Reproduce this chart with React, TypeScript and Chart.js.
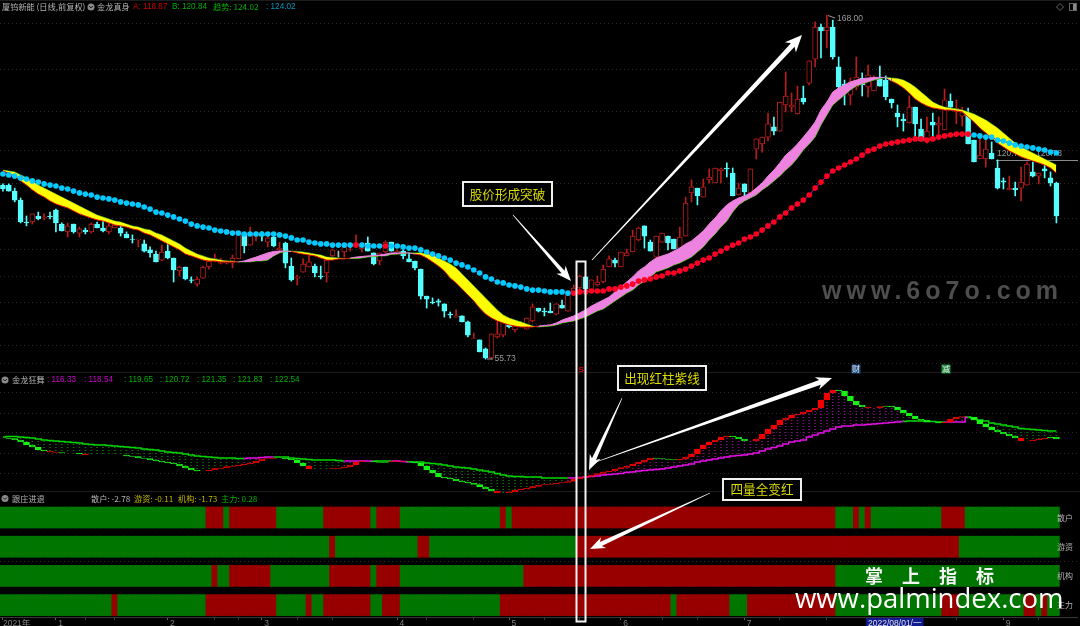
import React, { useEffect, useRef } from "react";
import { Chart, registerables } from "chart.js";

Chart.register(...registerables);

const opens = [111.3,111.3,109.3,106.3,99,99,101,100.3,101,103,98.3,95.7,98.3,95.3,96.3,95.7,98.3,97,95.7,97,97,95,93.3,93,91.7,89.7,88.3,86.3,89.3,87,82.7,84,79.7,78.3,80.3,84,86.3,85.3,85.3,85.3,86.7,95.3,91.3,94.3,95,92.3,94,89.7,92,84.3,80.3,82.3,84,84.3,81,82,87.7,88.7,89,90.7,91,90,92,88.7,86,89,92.3,88.3,89.3,86.7,86,83.3,74.3,72.3,72.7,71.7,68.3,67.3,67.7,65.7,60.2,59.7,56.7,53.7,60.7,61.3,64.7,63,65.3,63.3,66,70.3,69.3,69.3,68.3,71.3,69.3,75.7,77,80.7,76,78,79,84,86.3,84,87.7,89,93,97.7,92.3,87.3,92.3,94.3,93.3,90.3,94.3,108.7,110.3,107.3,113,112,116,117,115.3,108,111.7,108.7,123.3,125,127.3,130.7,129.3,138,137.3,135,140.3,145.3,153.3,164,162.7,164,150.7,145,141.3,144,147,144,142.7,146.7,146.3,140,135.3,133.3,132,137.3,130,126.3,132.3,131.3,129.7,139.3,135.7,134.3,135.3,126.3,120,120,122,117,112.7,109.7,110.3,110.3,111.3,115.7,114.3,116.7,113.7,112];
const closes = [110,109.3,106.3,99,98.8,101.7,100,100.7,100.8,98.7,96,97.7,95.7,96.7,95.7,98.3,97,96,97.7,98,95.3,93.7,93.2,93.3,89.3,88.7,85.7,89,87,83,84,80,79.5,80,84,86,87,86,85.7,87,95.3,91,95.3,95.3,94.3,93.7,91,90.3,85.3,79.7,80.7,85,85.7,82,80.7,86.3,89.7,88.7,90.7,91.3,92,91,89.3,85,88.7,92.3,89.3,89.3,87.7,85.7,83.7,74.3,73.3,72,72.3,69.3,68,67.7,65.7,61.3,60.3,55.7,53.7,61.7,61.7,65.7,64,64.3,64.7,67,70.7,69.3,69,68.7,71.7,70.3,74.7,77,81,76.7,79.7,79,83.3,86.7,85.3,89,88.7,94.3,97,94.3,89.3,94.3,95.3,92,90,94,105.3,110.7,107.7,110.7,114,117,116.7,116.7,107.7,110.3,109,116.7,126.7,127.3,131.7,129.3,139,141,138,140,139,152.7,164,162.7,164,154,144,143.7,145.7,147.3,144.7,148,146.7,144.3,140.7,138.7,134,132.7,137.3,131.7,126,129.3,131.3,132,139.7,137.3,137,135.7,125,119,121.3,123.3,120,110.3,112.3,110.3,109.7,112.3,118.3,114.3,115.3,116,112,101];
const highs = [111.7,111.7,110.3,107,101,101.7,102.3,101.7,102.3,103.3,98.7,98.7,98.3,97.3,97,98.7,99,99.7,98.7,99,98.3,95.7,94.7,93.3,93,90.7,89.3,91.3,92.3,87,84.3,84,80.7,80.7,84.3,87,88.3,87,86.3,88,95.7,95.3,97.3,95.7,95.7,94.3,95,92.3,92.3,87,81.3,86.7,87.7,85,84.3,87.3,90,89.3,91.3,92,94.7,91.3,94,88.7,88.7,92.7,92.3,89.7,89.7,88.7,86,83.3,74.3,73.7,73.3,71.7,69,69.7,67.7,66,62,59.7,57,61.7,65.7,66.3,65.7,64.7,65.7,67,71.7,70.3,70.3,72,71.7,73,75.3,78,81.3,80.7,79.7,81,84.7,87.7,87,89,90,96.3,97.3,97.7,93,94.3,95.3,94.3,93.3,97.3,107.3,113,110.3,113.3,116.7,117,117,118.7,117,112,111.7,116.7,126.7,127.3,135.3,134,139,149,142,144.3,144.3,152.7,165.7,165,168,166.3,154,146.3,147,154,148.7,151.3,147.7,151,147.7,140,138,135,141,137.3,133.3,134,135.3,134,143.3,141.7,139.7,137.3,137,126.3,127,127,125.7,119.7,113.7,114.3,112.3,117.3,119,119,115.3,118,115.7,112.3];
const lows = [109.3,109.3,105.7,98.7,97.7,98.3,99.7,99.7,100,95.7,96,94,95.3,94,95,95.3,97,95.7,95,97,94.3,93.7,92,90.7,89,87.3,85.7,86,86.7,79,81,79.7,78.7,77.7,80.3,83.3,85.7,85,85,83.7,86.7,88.7,91.3,92.7,92.7,90.7,90.7,89.3,83.7,79.3,78,82.3,84,80.7,80,79,87.3,87.3,87.3,89.3,91,89,89.3,84.7,84.7,88.7,89.3,88.3,86.7,85.7,83,73.3,70.3,71.7,71,67.3,67,67.3,65.7,60.7,60.2,55.7,53.3,53.3,60.3,60.7,63.7,62.3,64.7,63.3,65.7,69,67.7,68.7,68,70.3,69.3,75,76.3,76.7,76,77.7,78.7,84,84,84,87.7,89,92.7,90.3,89.3,87.3,92.3,89.7,90,90.3,94.3,105.7,104.7,107.3,112,112,112,114,107.7,108,107.7,108.7,120,122.3,126,128,129.3,135.7,135.7,135,138.3,144.7,150.7,153.7,157,153.3,140.7,138,138,143,141,140.7,142.7,144.3,139.7,137,130.7,129.3,132,127.3,126,125.3,127.3,127.3,129.7,136.3,131.7,131,125,119,120,117.3,120,110,110,109.7,107.7,106,111.3,114,111.7,113.7,111,98.7];

const ribbonFast = [116,115.3,114.3,112.7,111.3,109.7,108.3,107.3,106,105,104.3,103.7,102.7,101.7,101,100.3,99.7,99.3,98.7,98,97.7,97.3,96.7,96.3,95.3,94.7,93.7,92.7,91.7,90.7,89.7,88.3,87.7,87,86.3,86,86,85.7,85.7,85.7,85.7,86,86.7,87.3,88,88.7,89.2,89.3,89.3,89.2,88.7,88.3,88,87.7,87,86.3,86.3,86.7,86.7,87,87.3,87.5,87.7,87.8,88,88.3,88.7,88.7,88.7,88.7,88.3,88,87,85.7,84.3,82.7,80.3,78.7,76.7,74.7,72.7,70.3,68.3,67,66,65.3,64.7,64.3,64,64,64,64.3,64.5,64.7,65.3,66.3,67,67.7,68.7,69.7,71,72,73,74,75.7,77.3,79,80.7,82.7,84,85.7,87,87.7,88.3,89.3,90.3,91.7,92.7,94.3,96,98.3,100.3,102.7,104.7,106,107,107.7,108.7,110.3,112,114.3,116.3,118.7,121.3,123,125,127.3,129.7,132.3,136.3,139,142.3,143.7,144.7,145.7,146.3,146.7,147,147.2,147.2,147.2,146,145,143.7,142,140,138.7,137.7,137,136.7,136.3,136.3,136,135.7,134,132.3,130.3,128.7,127,125.3,124,122.7,121.7,120.7,120,119.3,118.7,118,117,115.3];
const ribbonSlow = [116.3,116,115.7,114.7,113.7,112.7,111.3,110.3,109.3,108.3,107.3,106.3,105.3,104.3,103.3,102.3,101.3,100.7,100,99.3,99,98.3,97.7,97.3,96.7,96.3,95.3,94.7,93.7,92.7,91.7,90.3,89.3,88.3,87.7,87,86.7,86.3,86,86,85.7,85.7,85.7,86,86,86.3,87.7,88.7,89.2,89.3,89.2,89,88.7,88.3,88,87.3,87.2,87,86.8,86.8,86.8,87,87.3,87.5,87.7,87.7,88.2,88.3,88.5,88.7,88.7,88.7,88.3,88,87,86,85,83.7,81.7,79.7,77.7,75.7,73.7,71.7,69.7,68,67,66.3,65.7,65,64.3,64,64.2,64.3,64.7,65.3,65.7,66,66.7,67.3,68.3,69.3,70,71.3,72.7,74,75.3,76.3,78,79.3,80.7,82.3,83,83.7,84.7,85.3,86.3,87.3,89,90.7,93,95,97.3,99.3,102.3,104.7,106,107,108,109.7,111,112.7,114.3,116.3,118,120.3,123,125,127.3,131.3,134.7,138,139.7,141.3,143,144.3,145,145.7,146.3,146.8,147.2,147,146.8,146.3,145.3,144,142.3,140.7,139,138,137.3,137,136.7,136.3,135.7,135,134,133,131.7,130.3,128.7,127,125.3,124,123,122,121,120,119,118];
const trendDots = [115,114.7,114.3,113.7,113.3,112.7,112.3,111.7,111.3,111,110.3,110,109.3,108.7,108.3,108,107.3,107,106.7,106.3,105.7,105.3,105,104.7,104,103.3,102.3,102,101.3,100.7,100,99.3,98.3,97.7,97.3,97,96.3,96,95.7,95.3,95.3,95,95,95,95,95,95,94.7,94.3,93.7,93,93,92.3,92,91.7,91.7,91.3,91.3,91.3,91.3,91.3,91.3,91,91,91,91,91,91,90.7,90.3,90.3,89.7,89,88.3,87.7,87,86.3,85.3,84.7,84,83,82,80.7,80,79,78.7,78,77.7,77.3,76.7,76.3,76.3,76,75.7,75.7,75.7,75.3,75.3,75.7,75.7,76,76,76,76.7,76.7,77.3,77.7,78.3,79.3,79.7,80,80.7,81,82,82,82.7,83.3,84.3,85.3,86.3,87,88.3,89.3,90.3,91.3,92,93.3,94,95,96.3,97.7,99,100.7,102,103.7,105,106.3,108,110.3,112.3,114.3,116,117,118,119,120,121.3,122.7,123.3,124.3,125,125.3,125.7,126,126.3,126.7,126.7,126.3,126.7,127.3,127.7,128,128.3,128.3,128.3,128,127.7,127.3,127.3,126.3,126,125.3,124.7,124.3,124,123.7,123.3,123,122.3,122];
const redDotSpans = [[60,60],[65,65],[97,164]];

const oscFast = [119.5,119,117.5,115.5,112.5,110.5,107.5,106.5,105.5,105,104.5,104.5,104.5,103.5,102.5,102.5,102.5,102.5,102.5,102.5,102.5,101.5,101,99.5,99,97.5,96.5,95.5,94.5,93.5,91.5,89.5,87.5,86.5,86.5,87.5,89,89.5,91,91.5,92.5,93.5,94.5,96.5,98.5,99,99.5,99.5,98.5,97.5,94.5,91.5,88.5,88.5,88.5,88.5,89,89.5,90.5,92.5,95.5,96.5,96.5,95.5,95,95.5,96,96.5,96,95.5,94.5,91.5,87.5,84.5,80.5,79.5,78.5,76.5,75.5,74.5,73,70.5,68.5,66.5,64.5,64.5,65.5,67.5,68.5,69.5,71,72.5,73,73.5,74.5,75,76,78.5,80,81,82.5,84,85.5,86.5,88.5,90,91.5,93.5,95.5,97.5,99.5,99,98.5,98,97.5,98.5,100.5,103.5,108.5,112.5,115.5,117.5,120.5,121.5,120.5,118.5,116.5,116.5,118.5,123.5,128.5,132.5,137.5,139.5,142.5,143.5,145.5,147.5,149.5,157.5,164.5,167.5,166.5,161.5,156.5,152.5,150.5,149.5,149.5,151,151.5,150.5,147.5,144.5,141.5,138.5,137.5,135.5,135.5,134.5,135.5,138.5,140.5,141,140.5,137.5,133.5,130.5,127.5,125.5,123.5,121.5,119.5,116.5,116.5,117.5,118.5,119.5,120.5,118.5];
const oscSlow = [120.5,121,121,120.5,120,119.5,118.5,117.5,117,116.5,116,115.5,115,114.5,113.5,113,112.5,112.5,112,111.5,111,110.5,110,109.5,108.5,108,107.5,106.5,105.5,105,104.5,103.5,102.5,101.5,101,100.5,100,99.5,99.5,99.5,99,99,99.5,99.5,100,100.5,100.5,100.5,100.5,99.5,99,98.5,98,97.5,97.5,97.5,97.5,97,96.5,96.5,96.5,96.5,96.5,96.5,96.5,96.5,96.5,96.5,96,95.5,95.5,95.5,94.5,94,93.5,92.5,91.5,90.5,90,89.5,88.5,87.5,86.5,85.5,84,82.5,81.5,81,81,80.5,80.5,80.5,79.5,79.5,79.5,79.5,79.5,79.5,80,80.5,81,81.5,82.5,83,83.5,84,85,85.5,86.5,87,87.5,88,88.5,89.5,90.5,91.5,92.5,93.5,95.5,96.5,97.5,98.5,99.5,100.5,101.5,102,102.5,103.5,104.5,106.5,108.5,110,111.5,113.5,115.5,116.5,117.5,120.5,122.5,124.5,126.5,128.5,130.5,131.5,131.5,132.5,132.5,133,133.5,134,134.5,135,135.5,136,136.5,136.5,136.5,136,136,135.5,135.5,135.5,135.5,135.5,140,139,137.5,136.5,134.5,133.5,132.5,131.5,130.5,129,128.5,128,127.5,127,126.5,126.5];
const oscRedSpans = [[8,9],[14,19],[34,47],[52,62],[66,68],[84,110],[115,123],[128,141],[147,149],[160,163],[173,177]];
const oscMagentaSpans = [[41,45],[58,62],[66,68],[96,152],[160,163]];

const flowNames = ["散户", "游资", "机构", "主力"];
const retailRed = [[35,37],[39,46],[55,62],[64,67],[85,85],[87,141],[145,145],[147,147],[160,163]];
const hotMoneyRed = [[56,56],[71,72],[98,162]];
const institutionRed = [[36,36],[39,45],[56,62],[64,67],[89,141]];
const mainForceRed = [[19,19],[35,46],[52,52],[55,62],[65,67],[85,113],[115,123],[127,141],[160,162],[174,175],[177,177]];
const flowRows = [retailRed, hotMoneyRed, institutionRed, mainForceRed];

const axisLabels: Record<number, string> = { 0: "2021年", 9: " 1", 28: " 2", 44: " 3", 67: " 4", 86: " 5", 105: " 6", 126: " 7", 147: "2022/08/01/一", 170: " 9" };
const minorTicks = [14, 19, 36, 40, 50, 56, 72, 80, 92, 98, 112, 118, 132, 140, 155, 162, 176];
const priceGrid = [165.3, 150, 136, 123, 112, 100.3, 90, 80.7, 72.3, 64.7, 57.7, 51.7];
const oscGrid = [165.5, 144.5, 124.5, 104.5, 84.5];

const SLOTS = 183;
const days = Array.from({ length: SLOTS }, (_, i) => String(i));
const BOTTOM = 617;
const inSpans = (spans: number[][], i: number) => spans.some(([a, b]) => i >= a && i <= b);

const CJK = '"Noto Sans CJK SC"';
const LATIN = '"Liberation Sans","Noto Sans CJK SC"';
const GRAY = "#b4b4b4";
const headers = [
  { t: "厦钨新能 (日线,前复权)", x: 2, y: 7, c: GRAY },
  { t: "金龙真身", x: 97, y: 7, c: GRAY },
  { t: "A: 118.87", x: 133, y: 7, c: "#d00000" },
  { t: "B: 120.84", x: 172, y: 7, c: "#00b000" },
  { t: "趋势: 124.02", x: 213, y: 7, c: "#00b000" },
  { t: ": 124.02", x: 266, y: 7, c: "#0098c0" },
  { t: "金龙狂舞", x: 12, y: 380, c: GRAY },
  { t: ": 116.33", x: 47, y: 380, c: "#d000d0" },
  { t: ": 118.54", x: 84, y: 380, c: "#d000d0" },
  { t: ": 119.65", x: 124, y: 380, c: "#00b000" },
  { t: ": 120.72", x: 160, y: 380, c: "#00b000" },
  { t: ": 121.35", x: 197, y: 380, c: "#00b000" },
  { t: ": 121.83", x: 233, y: 380, c: "#00b000" },
  { t: ": 122.54", x: 270, y: 380, c: "#00b000" },
  { t: "跟庄进退", x: 12, y: 498.5, c: GRAY },
  { t: "散户: -2.78", x: 91, y: 498.5, c: GRAY },
  { t: "游资: -0.11", x: 134, y: 498.5, c: "#c0b800" },
  { t: "机构: -1.73", x: 178, y: 498.5, c: "#c0b800" },
  { t: "主力: 0.28", x: 221, y: 498.5, c: "#00b000" },
];
const callouts = [
  { t: "股价形成突破", x: 463, y: 182, w: 89, h: 24 },
  { t: "出现红柱紫线", x: 618, y: 366, w: 88, h: 24 },
  { t: "四量全变红", x: 723, y: 479, w: 78, h: 21 },
];

function arrow(ctx: CanvasRenderingContext2D, x0: number, y0: number, x1: number, y1: number, tail: number, body: number, headL: number, headW: number) {
  const len = Math.hypot(x1 - x0, y1 - y0);
  const ux = (x1 - x0) / len, uy = (y1 - y0) / len;
  const nx = -uy, ny = ux;
  const bx = x1 - ux * headL, by = y1 - uy * headL;
  const nk = x1 - ux * headL * 0.8, nl = y1 - uy * headL * 0.8;
  ctx.beginPath();
  ctx.moveTo(x0 + (nx * tail) / 2, y0 + (ny * tail) / 2);
  ctx.lineTo(nk + (nx * body) / 2, nl + (ny * body) / 2);
  ctx.lineTo(bx + (nx * headW) / 2, by + (ny * headW) / 2);
  ctx.lineTo(x1, y1);
  ctx.lineTo(bx - (nx * headW) / 2, by - (ny * headW) / 2);
  ctx.lineTo(nk - (nx * body) / 2, nl - (ny * body) / 2);
  ctx.lineTo(x0 - (nx * tail) / 2, y0 - (ny * tail) / 2);
  ctx.closePath();
  ctx.fillStyle = "#fff";
  ctx.fill();
}

function icon(ctx: CanvasRenderingContext2D, x: number, y: number) {
  ctx.fillStyle = "#8a8a8a";
  ctx.beginPath();
  ctx.arc(x, y, 3.5, 0, Math.PI * 2);
  ctx.fill();
  ctx.strokeStyle = "#222";
  ctx.lineWidth = 1;
  ctx.beginPath();
  ctx.moveTo(x - 2, y - 1);
  ctx.lineTo(x, y + 1);
  ctx.lineTo(x + 2, y - 1);
  ctx.stroke();
}

const backdrop = {
  id: "backdrop",
  beforeDraw(chart: any) {
    const c = chart.ctx;
    c.save();
    c.fillStyle = "#000";
    c.fillRect(0, 0, chart.width, chart.height);
    c.fillStyle = "#1c1c1c";
    c.fillRect(0, 0, chart.width, 1);
    c.fillRect(0, 372, chart.width, 1);
    c.fillRect(0, 491, chart.width, 1);
    c.restore();
  },
  beforeDatasetsDraw(chart: any) {
    const c = chart.ctx;
    c.save();
    c.fillStyle = "#9a9a9a";
    c.font = `8.5px ${LATIN}`;
    c.textBaseline = "middle";
    c.fillText("120.78", 997, 154);
    c.fillText("120.78", 1036, 154);
    c.strokeStyle = "#8a8a8a";
    c.lineWidth = 1;
    c.beginPath();
    c.moveTo(996, 160.5);
    c.lineTo(1078, 160.5);
    c.stroke();
    c.restore();
  },
};

const overlay = {
  id: "overlay",
  afterDraw(chart: any) {
    const c = chart.ctx as CanvasRenderingContext2D;
    c.save();
    c.textBaseline = "middle";
    c.textAlign = "left";
    headers.forEach((h) => {
      c.font = `8.2px ${/[\u4e00-\u9fa5]/.test(h.t[0]) ? CJK : LATIN}`;
      c.fillStyle = h.c;
      c.fillText(h.t, h.x, h.y);
    });
    icon(c, 91, 7);
    icon(c, 5, 380);
    icon(c, 5, 498.5);

    c.strokeStyle = "#666";
    c.lineWidth = 1;
    c.beginPath();
    c.moveTo(1060, 3.5); c.lineTo(1063.5, 7); c.lineTo(1060, 10.5); c.lineTo(1056.5, 7); c.closePath();
    c.stroke();
    c.strokeRect(1069.5, 3.5, 7, 7);
    c.fillStyle = "#888";
    c.fillRect(1073, 4, 3, 6);

    c.fillStyle = "#9a9a9a";
    c.font = `8.5px ${LATIN}`;
    c.fillText("168.00", 837, 19);
    c.fillText("55.73", 494.5, 359);
    c.strokeStyle = "#9a9a9a";
    c.beginPath();
    c.moveTo(828, 15.5); c.lineTo(835, 18);
    c.moveTo(487, 359); c.lineTo(493, 359);
    c.stroke();

    c.fillStyle = "#e00000";
    c.font = `bold 8px ${LATIN}`;
    c.fillText("S", 578.5, 370);
    c.fillStyle = "#1c4c80";
    c.fillRect(851.5, 364.5, 9, 9);
    c.fillStyle = "#1c8c3c";
    c.fillRect(941.5, 364.5, 9, 9);
    c.fillStyle = "#e8e8e8";
    c.font = `8px ${CJK}`;
    c.fillText("财", 852, 369);
    c.fillText("减", 942, 369);

    arrow(c, 513, 215, 571, 281, 0.6, 4, 15, 12);
    arrow(c, 592, 260, 802, 35, 0.8, 5, 17, 15);
    arrow(c, 622, 398, 589, 470, 0.6, 4.5, 15, 12);
    arrow(c, 596, 462, 832, 378, 0.6, 5, 16, 13);
    arrow(c, 710, 493, 590, 549, 0.6, 4.5, 15, 12);

    c.strokeStyle = "#f4f4f4";
    c.lineWidth = 2;
    c.strokeRect(576.5, 261.5, 9, 360);

    callouts.forEach((b) => {
      c.fillStyle = "#000";
      c.fillRect(b.x, b.y, b.w, b.h);
      c.strokeStyle = "#f0f0f0";
      c.lineWidth = 2;
      c.strokeRect(b.x, b.y, b.w, b.h);
      c.fillStyle = "#dcdc00";
      c.font = `12.6px ${CJK}`;
      c.textAlign = "center";
      c.fillText(b.t, b.x + b.w / 2, b.y + b.h / 2);
    });

    c.textAlign = "left";
    c.fillStyle = "#4e4e4e";
    c.font = `bold 25px ${LATIN}`;
    (c as any).letterSpacing = "5px";
    c.fillText("www.6o7o.com", 822, 292);
    c.fillStyle = "#f4f4f4";
    c.font = `bold 18px ${CJK}`;
    (c as any).letterSpacing = "19px";
    c.fillText("掌上指标", 865, 576);
    c.fillStyle = "#fff";
    c.font = `27.5px "Open Sans"`;
    (c as any).letterSpacing = "0px";
    c.fillText("www.palmindex.com", 795, 600);
    c.restore();
  },
};

export default function App() {
  const ref = useRef<HTMLCanvasElement>(null);
  useEffect(() => {
    document.body.style.margin = "0";
    document.body.style.background = "#000";
    const ctx = ref.current!.getContext("2d")!;

    const dottedPattern = (color: string) => {
      const p = document.createElement("canvas");
      p.width = 1;
      p.height = 3;
      const pc = p.getContext("2d")!;
      pc.fillStyle = color;
      pc.fillRect(0, 0, 1, 1);
      return ctx.createPattern(p, "repeat")!;
    };
    const greenDots = dottedPattern("#0a6e0a");
    const magentaDots = dottedPattern("#800f80");

    const UP = "#b81c1c";
    const DOWN = "#55ffff";
    const candleColor = (i: number) => (closes[i] === opens[i] ? "#b8b8b8" : closes[i] > opens[i] ? UP : DOWN);

    const flowSets = flowRows.map((spans, r) => ({
      type: "bar",
      label: flowNames[r],
      yAxisID: "yFlow",
      grouped: false,
      order: 100,
      barThickness: 6,
      borderWidth: 0,
      data: opens.map(() => [r - 0.36, r + 0.36]),
      backgroundColor: (c: any) => (inSpans(spans, c.dataIndex) ? "rgb(152,0,0)" : "rgb(0,118,0)"),
    }));

    const chart = new Chart(ctx, {
      type: "bar",
      data: {
        labels: days,
        datasets: [
          ...flowSets,
          {
            type: "bar", label: "wick", yAxisID: "yPrice", grouped: false, order: 90, barThickness: 1, borderWidth: 0,
            data: highs.map((h, i) => [lows[i], h]),
            backgroundColor: (c: any) => candleColor(c.dataIndex),
          },
          {
            type: "bar", label: "body", yAxisID: "yPrice", grouped: false, order: 80, barThickness: 5, borderWidth: 1, borderSkipped: false,
            data: opens.map((o, i) => [o, closes[i]]),
            backgroundColor: (c: any) => (closes[c.dataIndex] > opens[c.dataIndex] ? "#000" : candleColor(c.dataIndex)),
            borderColor: (c: any) => candleColor(c.dataIndex),
          },
          {
            type: "line", label: "ribbonSlow", yAxisID: "yPrice", order: 70, data: ribbonSlow, pointRadius: 0, borderWidth: 1, borderColor: "#0f9a0f", fill: false,
          },
          {
            type: "line", label: "ribbonFast", yAxisID: "yPrice", order: 60, data: ribbonFast, pointRadius: 0, borderWidth: 1,
            fill: { target: flowSets.length + 2, above: "#ee82e0", below: "#ffff00" },
            segment: { borderColor: (s: any) => (s.p0.parsed.y < ribbonSlow[s.p0DataIndex] ? "#e01010" : "#ee82e0") },
          },
          {
            type: "line", label: "trend", yAxisID: "yPrice", order: 50, data: trendDots, borderWidth: 1, borderColor: "#d000d0", pointRadius: 2.8, pointBorderWidth: 0,
            pointBackgroundColor: (c: any) => (inSpans(redDotSpans, c.dataIndex) ? "#ff0020" : "#00ccff"),
          },
          {
            type: "bar", label: "oscBridge", yAxisID: "yOsc", grouped: false, order: 45, barThickness: 1, borderWidth: 0,
            data: oscFast.map((f, i) => [oscSlow[i], f]),
            backgroundColor: (c: any) => (inSpans(oscMagentaSpans, c.dataIndex) ? magentaDots : greenDots),
          },
          {
            type: "line", label: "oscSlow", yAxisID: "yOsc", order: 40, data: oscSlow, stepped: "middle", pointRadius: 0, borderWidth: 1.4,
            borderColor: "#00d000",
            segment: { borderColor: (s: any) => (inSpans(oscMagentaSpans, s.p0DataIndex) ? "#e810e8" : "#00d800") },
          },
          {
            type: "bar", label: "oscFast", yAxisID: "yOsc", grouped: false, order: 30, barThickness: 6, borderWidth: 1, borderSkipped: false,
            data: oscFast.map((f, i) => [i === 0 ? f : oscFast[i - 1], f]),
            backgroundColor: (c: any) => (inSpans(oscRedSpans, c.dataIndex) ? "#f00000" : "#18f018"),
            borderColor: (c: any) => (inSpans(oscRedSpans, c.dataIndex) ? "#f00000" : "#18f018"),
          },
        ] as any,
      },
      options: {
        responsive: false,
        animation: false,
        devicePixelRatio: 1,
        events: [],
        layout: { autoPadding: false, padding: { left: 0, right: 3, top: 0, bottom: 0 } },
        plugins: { legend: { display: false }, tooltip: { enabled: false }, title: { display: false } },
        scales: {
          x: {
            type: "category",
            offset: true,
            grid: {
              offset: false,
              drawOnChartArea: false,
              tickLength: 3,
              tickColor: (c: any) => (axisLabels[c.index] ? "#666" : minorTicks.includes(c.index) ? "#3a3a3a" : "transparent"),
            },
            border: { color: "#383838" },
            ticks: {
              autoSkip: false,
              maxRotation: 0,
              minRotation: 0,
              align: "start",
              padding: -1,
              font: { size: 8.5, family: LATIN },
              color: (c: any) => (axisLabels[c.index]?.length > 8 ? "#e0e0e0" : "#808080"),
              callback: (_: any, i: number) => axisLabels[i] ?? "",
              showLabelBackdrop: (c: any) => axisLabels[c.index]?.length > 8,
              backdropColor: "#101a90",
              backdropPadding: { x: 2, y: 1 },
            },
            afterFit: (s: any) => { s.height = 626 - BOTTOM; s.paddingLeft = 0; s.paddingRight = 0; },
          },
          yPrice: {
            type: "linear",
            position: "left",
            min: 173 - BOTTOM / 3,
            max: 173,
            afterBuildTicks: (s: any) => { s.ticks = priceGrid.map((value) => ({ value })); },
            afterFit: (s: any) => { s.width = 0; s.paddingTop = 0; s.paddingBottom = 0; },
            ticks: { display: false },
            border: { display: false, dash: [1, 3] },
            grid: { color: "#2c2c2c", drawTicks: false, lineWidth: 1 },
          },
          yOsc: {
            type: "linear",
            position: "left",
            min: 557.5 - BOTTOM,
            max: 557.5,
            afterBuildTicks: (s: any) => { s.ticks = oscGrid.map((value) => ({ value })); },
            afterFit: (s: any) => { s.width = 0; s.paddingTop = 0; s.paddingBottom = 0; },
            ticks: { display: false },
            border: { display: false, dash: [1, 3] },
            grid: { color: "#2c2c2c", drawTicks: false, lineWidth: 1 },
          },
          yFlow: {
            type: "linear",
            position: "right",
            reverse: true,
            min: -517.5 / 29.2,
            max: (BOTTOM - 517.5) / 29.2,
            afterBuildTicks: (s: any) => { s.ticks = [0, 1, 1.5, 2, 3].map((value) => ({ value })); },
            afterFit: (s: any) => { s.width = 0; s.paddingTop = 0; s.paddingBottom = 0; },
            ticks: {
              z: 1,
              mirror: true,
              padding: -4,
              color: GRAY,
              font: { size: 8, family: CJK },
              autoSkip: false,
              callback: (v: number) => flowNames[v] ?? "",
            },
            border: { display: false, dash: [1, 3] },
            grid: { color: (c: any) => (c.tick.value === 1.5 ? "#2c2c2c" : "transparent"), drawTicks: false },
          },
        },
      } as any,
      plugins: [backdrop, overlay],
    });
    return () => chart.destroy();
  }, []);
  return <canvas ref={ref} width={1080} height={626} style={{ display: "block", width: 1080, height: 626 }} />;
}
